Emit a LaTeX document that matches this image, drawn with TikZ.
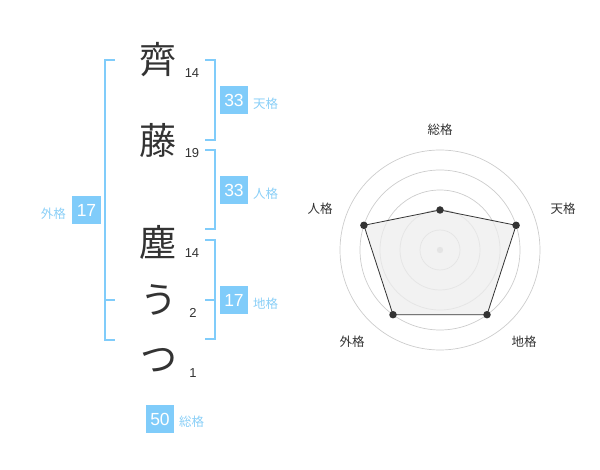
\documentclass[tikz,border=0pt]{standalone}
\usepackage{fontspec}
\setmainfont{Liberation Sans}
\newfontfamily\cjk{Noto Sans CJK JP}
\definecolor{kblue}{HTML}{80CCFA}
\definecolor{klabel}{HTML}{8ACFF7}
\definecolor{kdark}{HTML}{333333}
\definecolor{kring}{HTML}{CCCCCC}
\begin{document}
\begin{tikzpicture}[x=1pt,y=-1pt,
  bigchar/.style={font=\cjk\fontsize{37}{37}\selectfont,text=kdark,inner sep=0pt},
  strokes/.style={font=\fontsize{13}{13}\selectfont,text=kdark,inner sep=0pt},
  scorebox/.style={fill=kblue,text=white,minimum width=28.5pt,minimum height=28.5pt,inner sep=0pt,font=\fontsize{17.5}{17.5}\selectfont},
  kaku/.style={font=\cjk\fontsize{12.5}{12.5}\selectfont,text=klabel,inner sep=0pt},
  bracket/.style={draw=kblue,line width=2pt},
  ring/.style={draw=kring,line width=0.7pt},
  axislabel/.style={font=\cjk\fontsize{12.5}{12.5}\selectfont,text=kdark,inner sep=0pt},
  dot/.style={circle,fill=kdark,inner sep=0pt,minimum size=7.5pt}]
\useasboundingbox (0,0) rectangle (600,470);
% characters
\node[bigchar] (c1) at (158,60) {齊};
\node[bigchar] (c2) at (158,140) {藤};
\node[bigchar] (c3) at (158,242) {塵};
\node[bigchar] (c4) at (159,300) {う};
\node[bigchar] (c5) at (159,360) {つ};
\node[strokes] (s1) at (192,73) {14};
\node[strokes] (s2) at (192,153) {19};
\node[strokes] (s3) at (192,253) {14};
\node[strokes] (s4) at (193,313) {2};
\node[strokes] (s5) at (193,373) {1};
% brackets
\draw[bracket] (115,60) -- (105,60) -- (105,340) -- (115,340);
\draw[bracket] (105,300) -- (115,300);
\draw[bracket] (205,60) -- (215,60) -- (215,140) -- (205,140);
\draw[bracket] (205,150) -- (215,150) -- (215,229) -- (205,229);
\draw[bracket] (205,240) -- (215,240) -- (215,339) -- (205,339);
\draw[bracket] (205,300) -- (215,300);
% score boxes
\node[scorebox] (ten) at (234,100) {33};
\node[kaku,anchor=west] (tenl) at (253,104) {天格};
\node[scorebox] (jin) at (234,190) {33};
\node[kaku,anchor=west] (jinl) at (253,194) {人格};
\node[scorebox] (chi) at (234,300) {17};
\node[kaku,anchor=west] (chil) at (253,304) {地格};
\node[scorebox] (gai) at (86.5,210) {17};
\node[kaku,anchor=east] (gail) at (66,214) {外格};
\node[scorebox] (sou) at (160,419) {50};
\node[kaku,anchor=west] (soul) at (179,422) {総格};
% radar
\coordinate (ctr) at (440,250);
\foreach \r in {20,40,60,80,100} \draw[ring] (ctr) circle[radius=\r];
\fill[kring] (ctr) circle[radius=3.2];
\path (ctr) ++(0,-40) coordinate (pS);
\path (ctr) ++(76.1,-24.7) coordinate (pT);
\path (ctr) ++(47,64.7) coordinate (pC);
\path (ctr) ++(-47,64.7) coordinate (pG);
\path (ctr) ++(-76.1,-24.7) coordinate (pJ);
\filldraw[fill=black!7,fill opacity=0.75,draw=kdark,line width=0.8pt] (pS) -- (pT) -- (pC) -- (pG) -- (pJ) -- cycle;
\foreach \p in {pS,pT,pC,pG,pJ} \node[dot] at (\p) {};
\node[axislabel] (aS) at (440,130) {総格};
\node[axislabel] (aT) at (563,209) {天格};
\node[axislabel] (aC) at (524,342) {地格};
\node[axislabel] (aG) at (352,342) {外格};
\node[axislabel] (aJ) at (320,209) {人格};
\end{tikzpicture}
\end{document}
